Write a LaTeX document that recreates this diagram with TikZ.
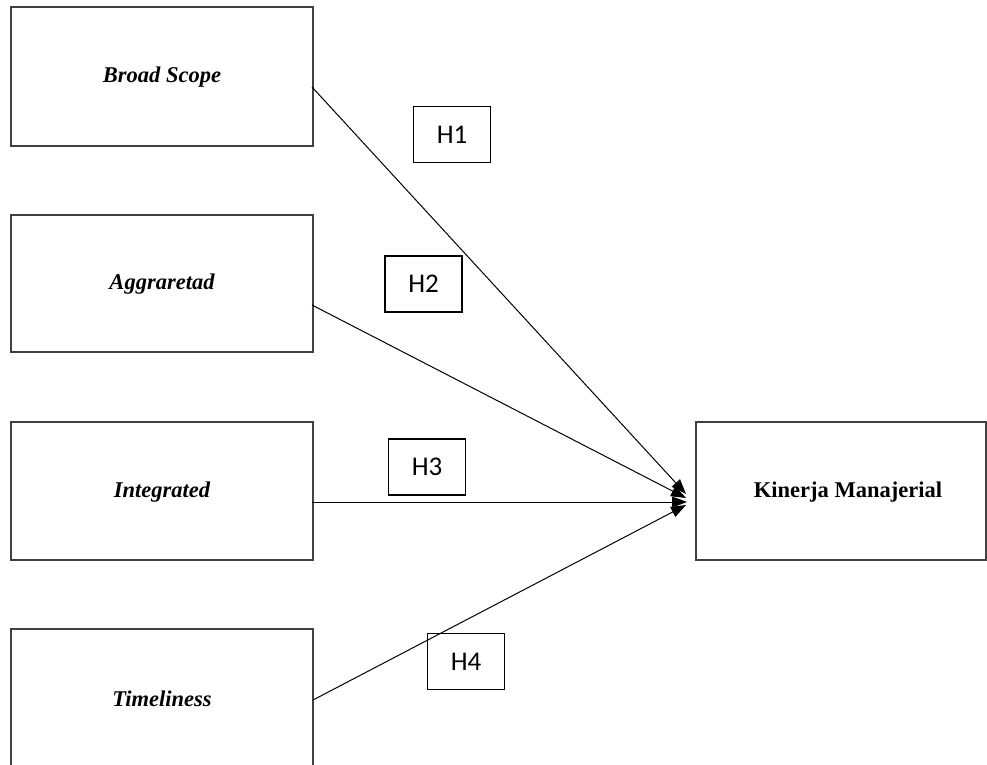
\documentclass[tikz,border=0pt]{standalone}
\usepackage{fontspec}
\setmainfont{Liberation Serif}
\newfontfamily\calfont{Carlito}
\usetikzlibrary{arrows.meta}
\begin{document}
\begin{tikzpicture}[x=1pt,y=-1pt,
  varbox/.style={draw=black!75,line width=1.4pt,rectangle,inner sep=0pt},
  hbox/.style={draw=black,line width=1.8pt,rectangle,inner sep=0pt,minimum width=77pt,minimum height=56pt,font=\calfont\fontsize{27}{30}\selectfont},
  conn/.style={line width=1pt,-{Triangle[length=15pt,width=11pt]}},
  lbl/.style={font=\fontsize{22.5}{26}\selectfont\bfseries\itshape}]
\useasboundingbox (0,0) rectangle (987,764);
\fill[white] (0,0) rectangle (987,764);
\draw[varbox] (11,7) rectangle (313,146);
\draw[varbox] (11,215) rectangle (313,352);
\draw[varbox] (11,422) rectangle (313,560);
\draw[varbox] (11,629) rectangle (313,768);
\draw[varbox] (696,422) rectangle (986,560);
\node[lbl] (bs) at (162,77) {Broad Scope};
\node[lbl] (ag) at (162,284) {Aggraretad};
\node[lbl] (in) at (162,492) {Integrated};
\node[lbl] (ti) at (162,699) {Timeliness};
\node[font=\fontsize{22.5}{26}\selectfont\bfseries] (km) at (848,492) {Kinerja Manajerial};
\coordinate (s1) at (312,87);
\coordinate (s2) at (312,305);
\coordinate (s3) at (312,502);
\coordinate (s4) at (313,700);
\coordinate (t1) at (686,494);
\coordinate (t2) at (686,498);
\coordinate (t3) at (687,502);
\coordinate (t4) at (686,505);
\draw[conn] (s1) -- (t1);
\draw[conn] (s2) -- (t2);
\draw[conn] (s3) -- (t3);
\draw[conn] (s4) -- (t4);
\node[hbox,fill=white] (h1) at (452,134.5) {H1};
\node[hbox,fill=white] (h2) at (423.5,284) {H2};
\node[hbox,fill=white] (h3) at (427,467) {H3};
\node[hbox] (h4) at (466,661.5) {H4};
\end{tikzpicture}
\end{document}
